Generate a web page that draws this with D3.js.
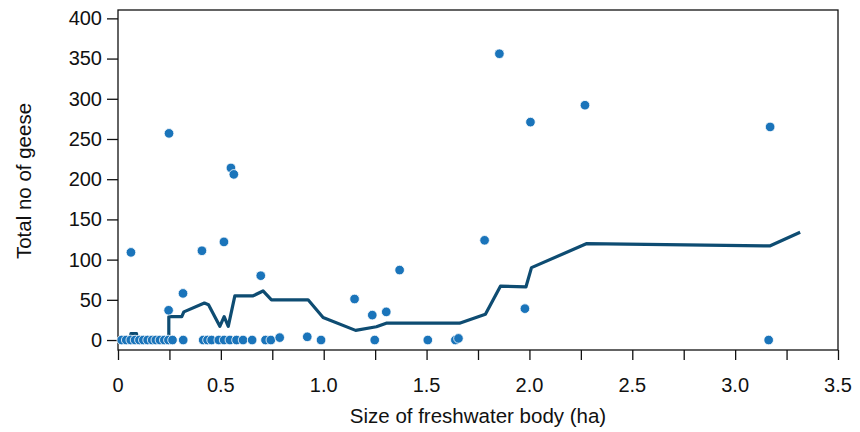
<!DOCTYPE html>
<html lang="en">
<head>
    <meta charset="UTF-8">
    <title>Geese vs freshwater body size</title>
    <script src="https://d3js.org/d3.v7.min.js"></script>
    <style>
        body { margin: 0; background: #fff; }
        svg text { font-family: "Liberation Sans", Arial, sans-serif; fill: #111; }
    </style>
</head>
<body>
    <div id="chart"></div>

    <script>
        // Observed ponds: size (ha) and total number of geese
        const sizeHa = [
            0.018, 0.040, 0.062, 0.083, 0.104, 0.123, 0.144, 0.166, 0.184, 0.204,
            0.225, 0.245, 0.265, 0.317, 0.414, 0.435, 0.455, 0.490, 0.516, 0.544,
            0.576, 0.608, 0.652, 0.717, 0.743, 0.786, 0.920, 0.987, 1.248, 1.506,
            1.640, 1.655, 3.163,
            0.063, 0.248, 0.246, 0.316, 0.408, 0.515, 0.549, 0.563, 0.694, 1.150,
            1.236, 1.304, 1.369, 1.782, 1.854, 1.978, 2.005, 2.270, 3.170
        ];
        const geese = [
            0, 0, 0, 0, 0, 0, 0, 0, 0, 0,
            0, 0, 0, 0, 0, 0, 0, 0, 0, 0,
            0, 0, 0, 0, 0, 3, 4, 0, 0, 0,
            0, 2, 0,
            109, 257, 37, 58, 111, 122, 214, 206, 80, 51,
            31, 35, 87, 124, 356, 39, 271, 292, 265
        ];

        // Smoothed trend line
        const trendX = [0.02, 0.06, 0.063, 0.09, 0.093, 0.247, 0.247, 0.31, 0.32, 0.42,
            0.44, 0.495, 0.516, 0.536, 0.568, 0.657, 0.705, 0.746, 0.924, 0.997,
            1.155, 1.256, 1.304, 1.66, 1.786, 1.859, 1.983, 2.01, 2.279, 3.168, 3.316];
        const trendY = [0, 0, 8, 8, 0, 0, 29, 29, 35, 46,
            44, 17, 29, 17, 55, 55, 61, 50, 50, 28,
            12, 16.5, 21, 21, 32, 67, 66, 90, 120, 117, 134];

        const xTicks = d3.range(0, 3.5001, 0.25);
        const xLabels = [0, 0.5, 1.0, 1.5, 2.0, 2.5, 3.0, 3.5];
        const yTicks = [0, 50, 100, 150, 200, 250, 300, 350, 400];

        const width = 860, height = 432;
        const plotLeft = 118, plotRight = 838, plotTop = 10, plotBottom = 350;

        const svg = d3.select("#chart").append("svg")
            .attr("width", width)
            .attr("height", height);

        const x = d3.scaleLinear().domain([0, 3.5]).range([plotLeft, plotRight]);
        const y = d3.scaleLinear().domain([-12.4, 410.4]).range([plotBottom, plotTop]);

        // frame
        svg.append("rect")
            .attr("x", plotLeft).attr("y", plotTop)
            .attr("width", plotRight - plotLeft).attr("height", plotBottom - plotTop)
            .attr("fill", "none").attr("stroke", "#111").attr("stroke-width", 1.3);

        // x axis
        const xAxis = svg.append("g")
            .attr("transform", `translate(0,${plotBottom})`)
            .call(d3.axisBottom(x).tickValues(xTicks).tickSize(10).tickFormat(""));
        xAxis.select(".domain").remove();
        xAxis.selectAll("line").attr("stroke", "#111").attr("stroke-width", 1.3);

        svg.append("g").selectAll("text")
            .data(xLabels)
            .enter().append("text")
            .attr("x", d => x(d))
            .attr("y", 392)
            .attr("text-anchor", "middle")
            .attr("font-size", 20)
            .text(d => d === 0 ? "0" : d3.format(".1f")(d));

        // y axis
        const yAxis = svg.append("g")
            .attr("transform", `translate(${plotLeft},0)`)
            .call(d3.axisLeft(y).tickValues(yTicks).tickSize(11).tickPadding(5));
        yAxis.select(".domain").remove();
        yAxis.selectAll("line").attr("stroke", "#111").attr("stroke-width", 1.3);
        yAxis.selectAll("text")
            .attr("font-size", 20)
            .attr("font-family", "Liberation Sans, Arial, sans-serif")
            .attr("fill", "#111");

        // axis titles
        svg.append("text")
            .attr("x", 478).attr("y", 423)
            .attr("text-anchor", "middle")
            .attr("font-size", 20.5)
            .text("Size of freshwater body (ha)");

        svg.append("text")
            .attr("transform", "translate(31,181) rotate(-90)")
            .attr("text-anchor", "middle")
            .attr("font-size", 20.5)
            .text("Total no of geese");

        // trend line
        const line = d3.line()
            .x((d, i) => x(trendX[i]))
            .y((d, i) => y(trendY[i]));

        svg.append("path")
            .datum(trendX)
            .attr("d", line)
            .attr("fill", "none")
            .attr("stroke", "#0e4c72")
            .attr("stroke-width", 3.2)
            .attr("stroke-linejoin", "round");

        // points
        svg.append("g").selectAll("circle")
            .data(sizeHa)
            .enter().append("circle")
            .attr("cx", d => x(d))
            .attr("cy", (d, i) => y(geese[i]))
            .attr("r", 4.8)
            .attr("fill", "#1a74ba")
            .attr("stroke", "#fff")
            .attr("stroke-width", 0.8);
    </script>
</body>
</html>
